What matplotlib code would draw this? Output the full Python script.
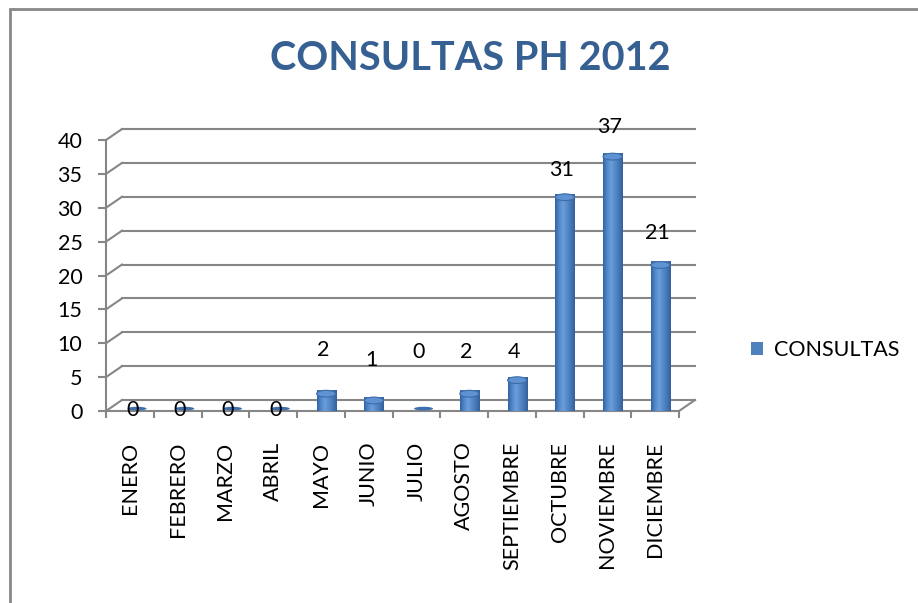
import matplotlib
matplotlib.use("Agg")
import matplotlib.pyplot as plt
import numpy as np
from matplotlib.path import Path
from matplotlib.patches import PathPatch, Ellipse, Rectangle, Patch
from matplotlib.colors import LinearSegmentedColormap

# data
meses = ["ENERO", "FEBRERO", "MARZO", "ABRIL", "MAYO", "JUNIO", "JULIO",
         "AGOSTO", "SEPTIEMBRE", "OCTUBRE", "NOVIEMBRE", "DICIEMBRE"]
consultas = [0, 0, 0, 0, 2, 1, 0, 2, 4, 31, 37, 21]
serie = "CONSULTAS"
titulo = "CONSULTAS PH 2012"
yticks = [0, 5, 10, 15, 20, 25, 30, 35, 40]

# where Excel put the value labels (height in value units)
label_h = [0.1, 0.1, 0.1, 0.1, 9.0, 7.5, 8.7, 8.7, 8.7, 35.6, 41.9, 26.2]

plt.rcParams["font.family"] = ["Lato", "DejaVu Sans"]
gris = "#868686"
azul = "#4F81BD"
fs = 15.5

# 3d look: depth of the box in data units
dx, dy = 0.335, 1.62
mx, my = 0.11, 0.55    # bars sit in the middle of the depth
rx, ry = 0.2, 0.5

fig = plt.figure(figsize=(9.18, 6.03), dpi=100)
ax = fig.add_axes([106/918, 1 - 411/603, 573/918, 271/603])
ax.set_xlim(0, len(meses))
ax.set_ylim(0, 40)

for s in ["top", "right"]:
    ax.spines[s].set_visible(False)
for s in ["left", "bottom"]:
    ax.spines[s].set_color(gris)
    ax.spines[s].set_linewidth(1.5)

ax.set_yticks(yticks)
ax.set_yticklabels([str(v) for v in yticks], fontsize=fs)
ax.tick_params(axis="y", length=6, width=1.5, color=gris, pad=11)
ax.set_xticks(np.arange(len(meses) + 1))
ax.set_xticklabels([])
ax.tick_params(axis="x", which="major", length=5, width=1.5, color=gris)
ax.set_xticks(np.arange(len(meses)) + 0.5, minor=True)
ax.set_xticklabels(meses, minor=True, rotation=90, fontsize=fs)
ax.tick_params(axis="x", which="minor", length=0, pad=22)

# back wall, side wall and floor lines
n = len(meses)
for v in yticks:
    ax.plot([dx, n + dx], [v + dy, v + dy], color=gris, lw=1.5, clip_on=False, zorder=1)
    ax.plot([0, dx], [v, v + dy], color=gris, lw=1.5, clip_on=False, zorder=1)
ax.plot([n, n + dx], [0, dy], color=gris, lw=1.5, clip_on=False, zorder=1)

cmap = LinearSegmentedColormap.from_list(
    "cil", ["#3463A0", "#5088CC", "#6B9EDB", "#578BCA", "#4777B5", "#32609A"])
grad = np.linspace(0, 1, 64).reshape(1, -1)

for i, v in enumerate(consultas):
    xc = i + 0.5 + mx
    y0 = my
    if v > 0:
        t = np.linspace(np.pi, 2 * np.pi, 40)
        t2 = np.linspace(0, np.pi, 40)
        bot = np.c_[xc + rx * np.cos(t), y0 + ry * np.sin(t)]
        top = np.c_[xc + rx * np.cos(t2), y0 + v + ry * np.sin(t2)]
        verts = np.vstack([bot, top, bot[:1]])
        body = PathPatch(Path(verts), facecolor="none", edgecolor="none", zorder=3)
        ax.add_patch(body)
        im = ax.imshow(grad, extent=[xc - rx, xc + rx, y0 - ry, y0 + v + ry],
                       cmap=cmap, aspect="auto", zorder=3, clip_on=False)
        im.set_clip_path(body)
        ax.add_patch(Ellipse((xc, y0 + v), 2 * rx, 2 * ry, facecolor="#5F92D2",
                             edgecolor="#3D6CA8", lw=0.8, zorder=4))
    else:
        ax.add_patch(Ellipse((xc + 0.04, y0 - 0.2), 2 * rx, 0.55, facecolor="#3F6FAD",
                             edgecolor="none", zorder=3))
    ax.text(i + 0.55, label_h[i], str(v), ha="center", va="center",
            fontsize=fs, color="black", zorder=5, clip_on=False)

ax.set_xlim(0, n)
ax.set_ylim(0, 40)

# legend
ax.legend(handles=[Patch(facecolor=azul, edgecolor="none", label=serie)],
          loc="center left", bbox_to_anchor=(732/918, 1 - 350/603),
          bbox_transform=fig.transFigure, frameon=False, fontsize=fs,
          handlelength=0.55, handleheight=0.55, handletextpad=0.5)

fig.text(470/918, 1 - 59/603, titulo, ha="center", va="center",
         fontsize=28.5, fontweight="bold", color="#376092")

# chart border
fig.patches.append(Rectangle((9.5/918, -0.1), 1.2, 1 - 9.5/603 + 0.1,
                             transform=fig.transFigure, fill=False,
                             edgecolor="#878787", lw=2))

fig.savefig("out.png", dpi=100)
